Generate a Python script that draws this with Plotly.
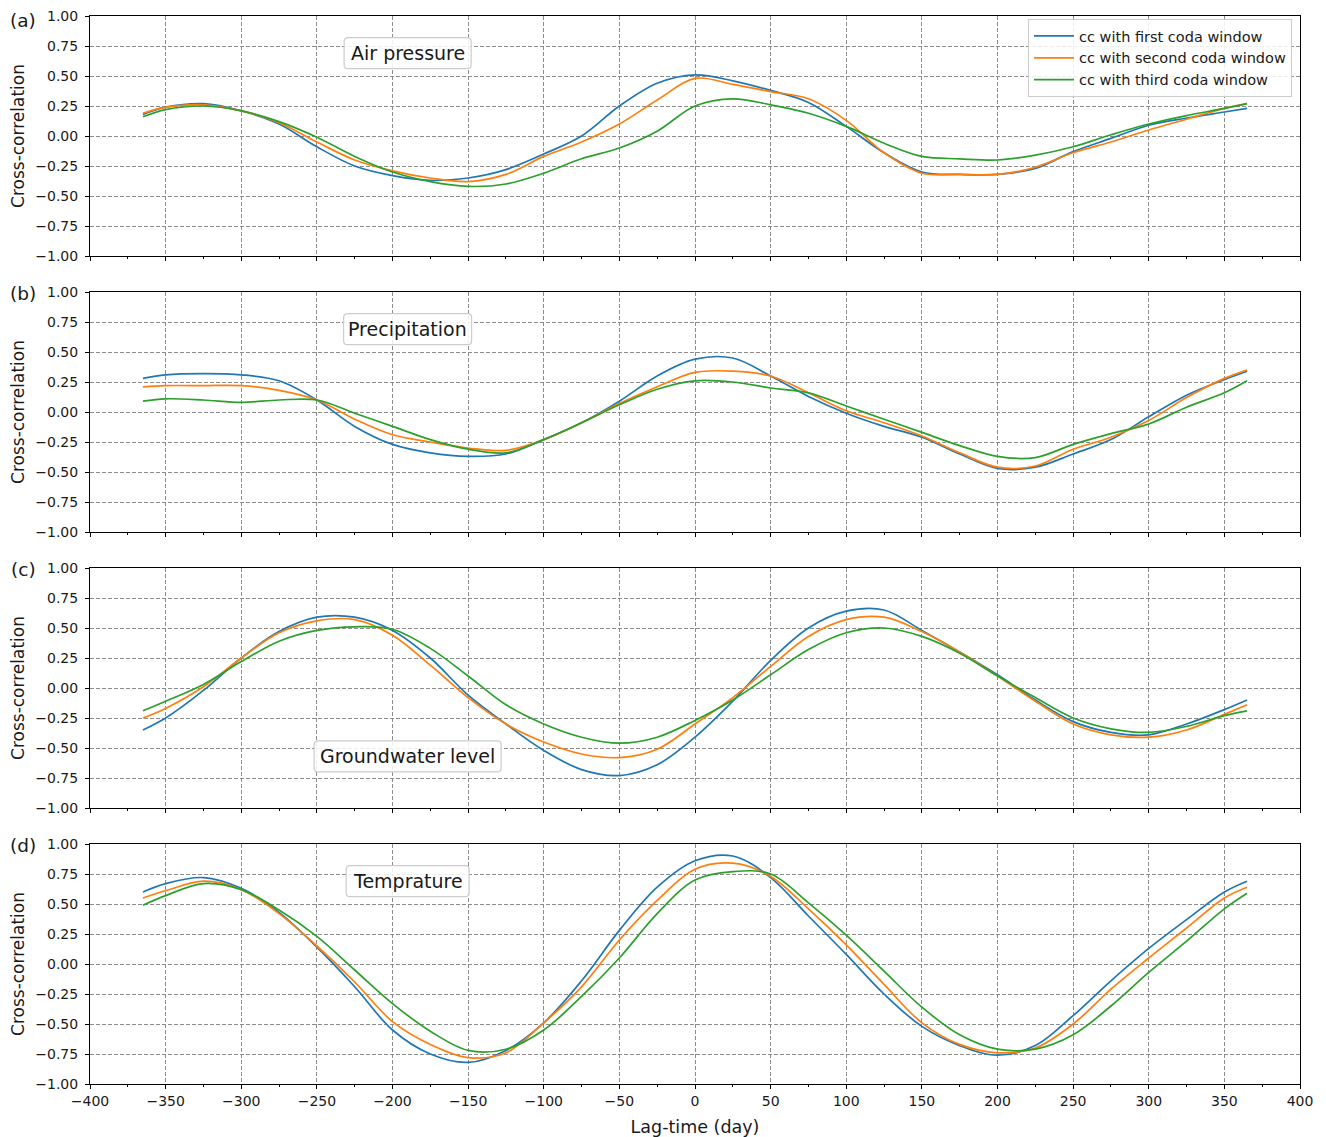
import plotly.graph_objects as go

lag_days = [-365, -350, -325, -300, -275, -250, -225, -200, -175, -150, -125, -100, -75, -50, -25,
            0, 25, 50, 75, 100, 125, 150, 175, 200, 225, 250, 275, 300, 325, 350, 365]

series_names = ["cc with first coda window", "cc with second coda window", "cc with third coda window"]
panel_titles = ["Air pressure", "Precipitation", "Groundwater level", "Temprature"]
panel_letters = ["(a)", "(b)", "(c)", "(d)"]

air_first = [0.18, 0.24, 0.27, 0.21, 0.10, -0.09, -0.25, -0.33, -0.37, -0.35, -0.28, -0.15, 0.0, 0.25, 0.44,
             0.51, 0.46, 0.38, 0.28, 0.08, -0.14, -0.30, -0.32, -0.32, -0.27, -0.13, -0.02, 0.09, 0.15, 0.20, 0.23]
air_second = [0.19, 0.24, 0.26, 0.21, 0.11, -0.05, -0.20, -0.29, -0.35, -0.38, -0.32, -0.17, -0.05, 0.10, 0.30,
              0.48, 0.43, 0.37, 0.31, 0.13, -0.14, -0.31, -0.32, -0.32, -0.26, -0.14, -0.05, 0.05, 0.14, 0.23, 0.27]
air_third = [0.16, 0.22, 0.25, 0.21, 0.12, -0.01, -0.17, -0.30, -0.38, -0.42, -0.40, -0.31, -0.19, -0.10, 0.04,
             0.25, 0.31, 0.26, 0.19, 0.08, -0.06, -0.17, -0.19, -0.20, -0.16, -0.09, 0.01, 0.10, 0.17, 0.23, 0.27]

precip_first = [0.28, 0.31, 0.32, 0.31, 0.26, 0.10, -0.12, -0.27, -0.34, -0.37, -0.35, -0.23, -0.09, 0.09, 0.30,
                0.44, 0.45, 0.30, 0.13, -0.01, -0.12, -0.21, -0.35, -0.47, -0.46, -0.35, -0.23, -0.04, 0.14, 0.27, 0.34]
precip_second = [0.21, 0.22, 0.22, 0.22, 0.18, 0.10, -0.06, -0.19, -0.25, -0.30, -0.32, -0.23, -0.09, 0.07, 0.21,
                 0.33, 0.34, 0.30, 0.16, 0.01, -0.09, -0.20, -0.34, -0.46, -0.45, -0.31, -0.21, -0.07, 0.12, 0.28, 0.35]
precip_third = [0.09, 0.11, 0.10, 0.08, 0.10, 0.10, -0.01, -0.12, -0.23, -0.31, -0.34, -0.23, -0.09, 0.06, 0.19,
                0.26, 0.25, 0.20, 0.16, 0.05, -0.06, -0.17, -0.28, -0.37, -0.38, -0.27, -0.18, -0.10, 0.04, 0.16, 0.26]

ground_first = [-0.35, -0.25, -0.02, 0.25, 0.47, 0.59, 0.59, 0.48, 0.25, -0.06, -0.30, -0.52, -0.68, -0.73, -0.64,
                -0.41, -0.11, 0.23, 0.50, 0.64, 0.65, 0.48, 0.30, 0.11, -0.10, -0.28, -0.37, -0.39, -0.30, -0.18, -0.10]
ground_second = [-0.25, -0.17, 0.01, 0.25, 0.46, 0.56, 0.57, 0.44, 0.19, -0.08, -0.30, -0.45, -0.55, -0.58, -0.51,
                 -0.30, -0.08, 0.18, 0.43, 0.57, 0.59, 0.47, 0.30, 0.10, -0.11, -0.30, -0.39, -0.41, -0.35, -0.22, -0.14]
ground_third = [-0.19, -0.11, 0.03, 0.22, 0.39, 0.48, 0.51, 0.49, 0.33, 0.10, -0.14, -0.30, -0.41, -0.46, -0.41,
                -0.27, -0.10, 0.11, 0.32, 0.46, 0.50, 0.43, 0.29, 0.10, -0.08, -0.25, -0.34, -0.37, -0.32, -0.23, -0.19]

temp_first = [0.60, 0.67, 0.72, 0.63, 0.43, 0.14, -0.19, -0.55, -0.75, -0.82, -0.72, -0.49, -0.14, 0.28, 0.64,
              0.86, 0.90, 0.72, 0.40, 0.08, -0.25, -0.52, -0.68, -0.76, -0.68, -0.43, -0.14, 0.13, 0.37, 0.60, 0.69]
temp_second = [0.55, 0.61, 0.69, 0.62, 0.42, 0.15, -0.15, -0.48, -0.67, -0.78, -0.74, -0.49, -0.19, 0.20, 0.53,
               0.79, 0.84, 0.73, 0.46, 0.16, -0.17, -0.49, -0.67, -0.74, -0.70, -0.50, -0.21, 0.05, 0.30, 0.55, 0.64]
temp_third = [0.49, 0.57, 0.67, 0.62, 0.45, 0.23, -0.05, -0.33, -0.56, -0.72, -0.71, -0.55, -0.27, 0.05, 0.42,
              0.70, 0.77, 0.75, 0.51, 0.24, -0.06, -0.36, -0.59, -0.71, -0.71, -0.59, -0.35, -0.07, 0.19, 0.46, 0.59]

panels = [
    [air_first, air_second, air_third],
    [precip_first, precip_second, precip_third],
    [ground_first, ground_second, ground_third],
    [temp_first, temp_second, temp_third],
]
# centre (lag, cc) of the text box in each panel
label_pos = [(-190, 0.69), (-190, 0.69), (-190, -0.57), (-190, 0.69)]
# text-box size in pixels (width, height)
label_box_px = [(127, 31), (128, 31), (187, 31), (123, 31)]

x_ticks = [-400, -350, -300, -250, -200, -150, -100, -50, 0, 50, 100, 150, 200, 250, 300, 350, 400]
y_ticks = [-1.0, -0.75, -0.5, -0.25, 0.0, 0.25, 0.5, 0.75, 1.0]

colors = ["#1f77b4", "#ff7f0e", "#2ca02c"]
FONT = "DejaVu Sans"
TXT = "#1a1a1a"

# page offset of the plot div (body margin)
DX, DY = 8, 8
W, H = 1326 - 2 * DX, 1137 - DY
# target plot-area edges in window pixels
LEFT, RIGHT = 90, 1300
panel_px = [(16, 256), (292, 532), (568, 808), (844, 1084)]
ML = LEFT - DX
MR = W - (RIGHT - DX)
MT = panel_px[0][0] - DY
MB = H - (panel_px[-1][1] - DY)
plot_h = H - MT - MB
plot_w = W - ML - MR


def rounded_box(w, h, r=4):
    a, b = w / 2, h / 2
    return (f"M {-a + r},{-b} L {a - r},{-b} Q {a},{-b} {a},{-b + r} L {a},{b - r} Q {a},{b} {a - r},{b} "
            f"L {-a + r},{b} Q {-a},{b} {-a},{b - r} L {-a},{-b + r} Q {-a},{-b} {-a + r},{-b} Z")


def paper_y(px):
    return 1 - (px - panel_px[0][0]) / plot_h


fig = go.Figure()
layout = {}
for i, series in enumerate(panels):
    ax = "" if i == 0 else str(i + 1)
    for j, vals in enumerate(series):
        fig.add_trace(go.Scatter(
            x=lag_days, y=vals, mode="lines", name=series_names[j],
            line=dict(color=colors[j], width=1.7, shape="spline", smoothing=1.0),
            xaxis="x" + ax, yaxis="y" + ax, showlegend=(i == 0),
        ))
    top, bot = panel_px[i]
    dom = [paper_y(bot), paper_y(top)]
    common = dict(showline=True, linecolor="black", linewidth=1, mirror=True,
                  ticks="outside", ticklen=4, tickcolor="black",
                  showgrid=True, gridcolor="#8c8c8c", gridwidth=0.8, griddash="4px,2px",
                  zeroline=False, tickfont=dict(family=FONT, size=14, color=TXT),
                  ticklabeloverflow="allow")
    layout["xaxis" + ax] = dict(common, range=[-400, 400], tickmode="array", tickvals=x_ticks,
                                ticktext=[str(v).replace("-", "\u2212") for v in x_ticks],
                                showticklabels=(i == 3), anchor="y" + ax,
                                minor=dict(ticks="outside", dtick=25, tick0=0, ticklen=2, tickcolor="black",
                                           showgrid=False),
                                **({"matches": "x"} if i > 0 else {}))
    layout["yaxis" + ax] = dict(common, range=[-1, 1], domain=dom, anchor="x" + ax,
                                tickmode="array", tickvals=y_ticks,
                                ticktext=[f"{v:.2f}".replace("-", "\u2212") for v in y_ticks],
                                ticklabelstandoff=4,
                                title=dict(text="Cross-correlation", font=dict(family=FONT, size=17, color=TXT),
                                           standoff=6))
    if i == 3:
        layout["xaxis" + ax]["title"] = dict(text="Lag-time (day)", font=dict(family=FONT, size=17.5, color=TXT),
                                             standoff=12)
    lx, ly = label_pos[i]
    bw, bh = label_box_px[i]
    fig.add_shape(type="path", xref="x" + ax, yref="y" + ax, xsizemode="pixel", ysizemode="pixel",
                  xanchor=lx, yanchor=ly, path=rounded_box(bw, bh), layer="above",
                  fillcolor="rgba(255,255,255,0.85)", line=dict(color="#cccccc", width=1.2))
    fig.add_annotation(x=lx, y=ly, xref="x" + ax, yref="y" + ax, text=panel_titles[i], showarrow=False,
                       font=dict(family=FONT, size=19, color=TXT))
    if i == 0:
        # keep the first letter inside the page: pin its top to the figure's top edge
        letter_kw = dict(y=paper_y(DY), yanchor="top")
    else:
        letter_kw = dict(y=paper_y(top + 1), yanchor="middle")
    fig.add_annotation(x=(23 - LEFT) / plot_w, xref="paper", yref="paper",
                       text=panel_letters[i], showarrow=False, xanchor="center",
                       font=dict(family=FONT, size=18.5, color=TXT), **letter_kw)

fig.update_layout(
    width=W, height=H,
    margin=dict(l=ML, r=MR, t=MT, b=MB, autoexpand=False),
    paper_bgcolor="white", plot_bgcolor="white",
    font=dict(family=FONT, size=14, color=TXT),
    legend=dict(x=(1292 - LEFT) / plot_w, y=paper_y(19), xanchor="right", yanchor="top",
                bgcolor="rgba(255,255,255,0.85)", bordercolor="#cccccc", borderwidth=1,
                font=dict(family=FONT, size=14.5, color=TXT), tracegroupgap=0,
                itemwidth=40),
    showlegend=True,
    **layout,
)

fig.write_html("out.html")
